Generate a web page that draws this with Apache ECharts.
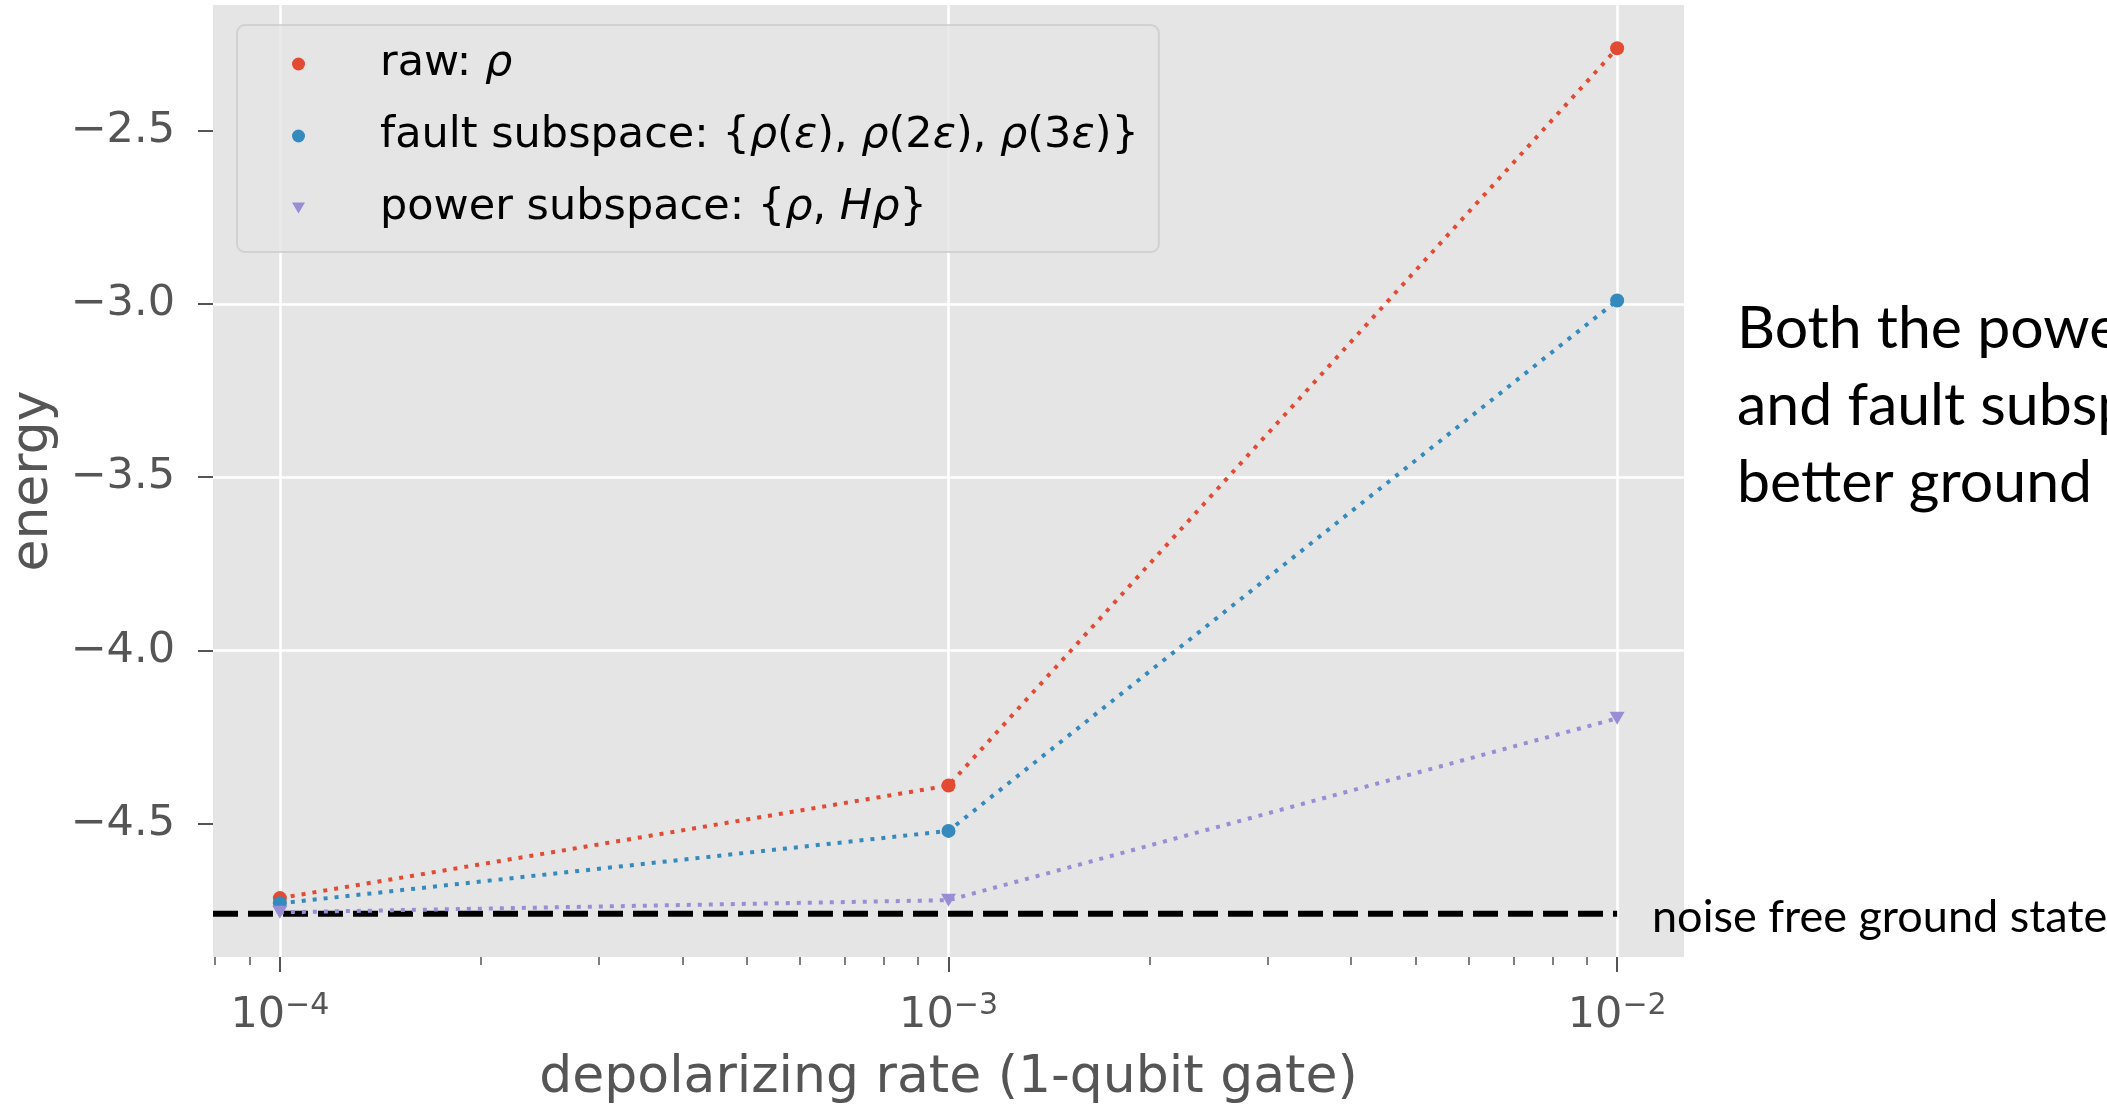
<!DOCTYPE html>
<html>
<head>
<meta charset="utf-8">
<title>energy vs depolarizing rate</title>
<script src="https://cdn.jsdelivr.net/npm/echarts@6/dist/echarts.min.js"></script>
<style>
    html, body { margin: 0; padding: 0; background: #fff; }
    #chart { width: 2107px; height: 1104px; }
</style>
</head>
<body>
<div id="chart"></div>
<script>
// data
var rates = [1e-4, 1e-3, 1e-2];
var rawEnergy = [-4.715, -4.390, -2.262];
var faultEnergy = [-4.730, -4.521, -2.990];
var powerEnergy = [-4.756, -4.721, -4.196];
var groundEnergy = -4.760;

// axis ticks
var xMajorTicks = [1e-4, 1e-3, 1e-2];
var xMinorTicks = [8e-5, 9e-5,
    2e-4, 3e-4, 4e-4, 5e-4, 6e-4, 7e-4, 8e-4, 9e-4,
    2e-3, 3e-3, 4e-3, 5e-3, 6e-3, 7e-3, 8e-3, 9e-3];
var yTicks = [-4.5, -4.0, -3.5, -3.0, -2.5];
var xMin = 7.943e-5, xMax = 1.2589e-2;
var yMin = -4.885, yMax = -2.137;

var legendText = {
    raw: '{sp| }raw: {i|ρ}',
    fault: '{sp| }fault subspace: {{i|ρ}({i|ε}), {i|ρ}(2{i|ε}), {i|ρ}(3{i|ε})}',
    power: '{sp| }power subspace: {{i|ρ}, {i|H}{i|ρ}}'
};

var RED = '#E24A33', BLUE = '#348ABD', PURPLE = '#988ED5';
var TRI_DOWN = 'path://M0,0L20,0L10,17.3Z';
var MPL_FONT = 'DejaVu Sans';

function pairs(ys) {
    return rates.map(function (r, i) { return [r, ys[i]]; });
}

function dotted(name, ys, color, symbol, size) {
    return {
        name: name,
        type: 'line',
        data: pairs(ys),
        symbol: symbol,
        symbolSize: size,
        itemStyle: { color: color },
        lineStyle: { color: color, width: 4, type: [4, 7], cap: 'butt' },
        z: 3
    };
}

var chart = echarts.init(document.getElementById('chart'));

var option = {
    animation: false,
    backgroundColor: '#ffffff',
    grid: {
        left: 213, right: 423, top: 5, bottom: 147,
        show: true, backgroundColor: '#E5E5E5', borderWidth: 0,
        containLabel: false, outerBoundsMode: 'none'
    },
    legend: {
        orient: 'vertical',
        left: 237, top: 25,
        padding: [13, 20, 18, 55],
        itemGap: 20,
        itemWidth: 13, itemHeight: 13,
        selectedMode: false,
        backgroundColor: 'rgba(229,229,229,0.8)',
        borderColor: 'rgba(204,204,204,0.8)',
        borderWidth: 2,
        borderRadius: 8,
        itemStyle: { borderWidth: 0 },
        data: [
            { name: 'raw', icon: 'circle' },
            { name: 'fault', icon: 'circle' },
            { name: 'power', icon: TRI_DOWN }
        ],
        formatter: function (name) { return legendText[name]; },
        textStyle: {
            fontFamily: MPL_FONT, fontSize: 43, color: '#000', lineHeight: 52,
            rich: {
                sp: { width: 70, fontSize: 43, fontFamily: MPL_FONT },
                i: { fontStyle: 'italic', fontFamily: MPL_FONT, fontSize: 43, color: '#000' }
            }
        }
    },
    xAxis: [{
        type: 'log',
        logBase: 10,
        min: xMin, max: xMax,
        name: 'depolarizing rate (1-qubit gate)',
        nameLocation: 'middle',
        nameGap: 95,
        nameTextStyle: { fontFamily: MPL_FONT, fontSize: 52, color: '#555555' },
        axisLine: { show: false },
        axisTick: { show: true, length: 15, lineStyle: { color: '#555555', width: 2 }, customValues: xMajorTicks },
        axisLabel: {
            customValues: xMajorTicks,
            margin: 34,
            color: '#555555',
            formatter: function (v) {
                var e = Math.round(Math.log(v) / Math.LN10);
                return '{b|10}{s|' + (e < 0 ? '−' : '') + Math.abs(e) + '}';
            },
            rich: {
                b: { fontFamily: MPL_FONT, fontSize: 43, color: '#555555', lineHeight: 46, verticalAlign: 'bottom' },
                s: { fontFamily: MPL_FONT, fontSize: 30, color: '#555555', lineHeight: 20, verticalAlign: 'top' }
            }
        },
        splitLine: { show: true, lineStyle: { color: '#ffffff', width: 2.5 } }
    }, {
        // minor ticks only
        type: 'log',
        logBase: 10,
        min: xMin, max: xMax,
        position: 'bottom',
        axisLine: { show: false },
        axisLabel: { show: false },
        splitLine: { show: false },
        axisTick: { show: true, length: 8, lineStyle: { color: '#555555', width: 1.5 }, customValues: xMinorTicks }
    }],
    yAxis: {
        type: 'value',
        min: yMin, max: yMax,
        name: 'energy',
        nameLocation: 'middle',
        nameGap: 150,
        nameTextStyle: { fontFamily: MPL_FONT, fontSize: 52, color: '#555555' },
        axisLine: { show: false },
        axisTick: { show: true, length: 15, lineStyle: { color: '#555555', width: 2 }, customValues: yTicks },
        axisLabel: {
            customValues: yTicks,
            margin: 38,
            fontFamily: MPL_FONT, fontSize: 43, color: '#555555',
            formatter: function (v) { return v.toFixed(1).replace('-', '−'); }
        },
        splitLine: { show: true, showMinLine: false, showMaxLine: false, lineStyle: { color: '#ffffff', width: 2.5 } }
    },
    series: [
        {
            name: 'ground',
            type: 'line',
            data: [[xMin, groundEnergy], [1e-2, groundEnergy]],
            symbol: 'none',
            lineStyle: { color: '#000000', width: 6, type: [25, 10], cap: 'butt' },
            z: 2
        },
        dotted('raw', rawEnergy, RED, 'circle', 14),
        dotted('fault', faultEnergy, BLUE, 'circle', 14),
        dotted('power', powerEnergy, PURPLE, TRI_DOWN, [15, 13])
    ],
    graphic: [
        {
            type: 'text', left: 1652, top: 895,
            style: { text: 'noise free ground state', fontFamily: 'Lato', fontSize: 45, fill: '#000' },
            z: 10
        },
        {
            type: 'text', left: 1737, top: 290,
            style: {
                text: 'Both the power\nand fault subspace\nbetter ground',
                fontFamily: 'Lato', fontSize: 59, lineHeight: 77, fill: '#000'
            },
            z: 10
        }
    ]
};

chart.setOption(option);
</script>
</body>
</html>
